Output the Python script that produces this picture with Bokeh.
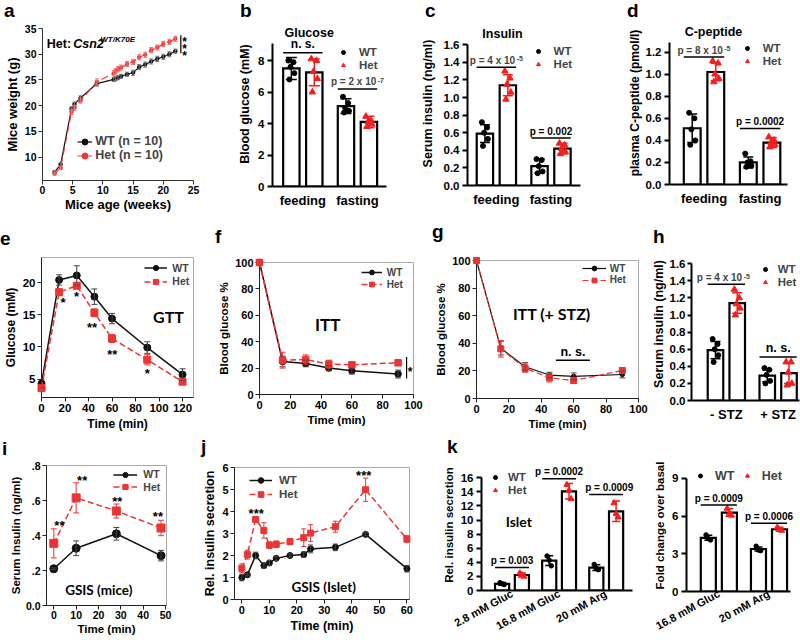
import math
from bokeh.plotting import figure
from bokeh.layouts import row, column
from bokeh.models import (Range1d, FixedTicker, Label, Whisker, TeeHead, ColumnDataSource,
                          Legend, LegendItem, CustomJSTickFormatter, PrintfTickFormatter, Div)
from bokeh.embed import file_html
from bokeh.resources import INLINE

# ===================== DATA =====================
# a: body weight
A_AGE = [2, 3, 4.8, 5.3, 6.3, 9, 11.8, 12.1, 12.5, 13, 14, 15, 16, 17, 18, 19, 20, 21, 22]
A_WT = [7.1, 8.6, 19.4, 20.3, 21.5, 24.3, 25.1, 25.25, 25.45, 25.7, 26.1, 26.4, 27.5, 28.0, 28.6, 29.1, 29.5, 30.0, 30.6]
A_WT_ERR = [0.3, 0.3, 0.4, 0.4, 0.4, 0.5, 0.4, 0.4, 0.4, 0.4, 0.4, 0.5, 0.5, 0.5, 0.5, 0.5, 0.5, 0.5, 0.4]
A_HET = [6.8, 7.9, 18.8, 19.6, 21.0, 24.6, 26.3, 26.7, 27.1, 27.4, 28.1, 28.5, 29.4, 29.9, 30.8, 31.3, 32.0, 32.4, 33.0]
A_HET_ERR = [0.3, 0.3, 0.5, 0.5, 0.5, 0.6, 0.5, 0.5, 0.5, 0.5, 0.5, 0.5, 0.5, 0.5, 0.5, 0.5, 0.5, 0.5, 0.5]
A_XTICKS = [0, 5, 10, 15, 20, 25]
A_YTICKS = [10, 15, 20, 25, 30, 35]

# b: blood glucose
B_CATS = ["feeding", "fasting"]
B_WT = [7.5, 5.1]
B_WT_SD = [0.7, 0.47]
B_HET = [7.25, 4.1]
B_HET_SD = [0.85, 0.36]
B_WT_PTS = [[8.0, 7.9, 7.6, 7.2, 6.8], [5.7, 5.3, 5.0, 4.8, 4.7]]
B_HET_PTS = [[8.1, 8.0, 7.3, 6.85, 6.0], [4.45, 4.2, 4.1, 3.95, 3.8]]
B_YTICKS = [0, 2, 4, 6, 8]

# c: serum insulin
C_CATS = ["feeding", "fasting"]
C_WT = [0.59, 0.22]
C_WT_SD = [0.10, 0.08]
C_HET = [1.14, 0.42]
C_HET_SD = [0.12, 0.06]
C_WT_PTS = [[0.72, 0.66, 0.60, 0.53, 0.45], [0.30, 0.29, 0.22, 0.16, 0.14]]
C_HET_PTS = [[1.30, 1.22, 1.15, 1.06, 0.98], [0.48, 0.46, 0.42, 0.38, 0.36]]
C_YTICKS = [0, 0.2, 0.4, 0.6, 0.8, 1.0, 1.2, 1.4, 1.6]

# d: C-peptide
D_CATS = ["feeding", "fasting"]
D_WT = [0.51, 0.20]
D_WT_SD = [0.13, 0.05]
D_HET = [1.02, 0.38]
D_HET_SD = [0.08, 0.045]
D_WT_PTS = [[0.65, 0.60, 0.50, 0.40, 0.36], [0.28, 0.21, 0.20, 0.17, 0.16]]
D_HET_PTS = [[1.12, 1.10, 1.00, 0.96, 0.93], [0.43, 0.40, 0.38, 0.36, 0.34]]
D_YTICKS = [0, 0.2, 0.4, 0.6, 0.8, 1.0, 1.2]

# e: GTT
E_T = [0, 15, 30, 45, 60, 90, 120]
E_WT = [4.3, 20.4, 21.1, 17.8, 14.4, 9.9, 5.7]
E_WT_ERR = [0.6, 0.8, 1.5, 1.2, 0.8, 0.9, 0.9]
E_HET = [3.6, 18.5, 19.5, 15.3, 11.3, 8.0, 4.6]
E_HET_ERR = [0.3, 0.4, 0.4, 0.6, 0.6, 0.8, 0.3]
E_XTICKS = [0, 20, 40, 60, 80, 100, 120]
E_YTICKS = [5, 10, 15, 20]

# f: ITT
F_T = [0, 15, 30, 45, 60, 90]
F_WT = [100, 25.0, 23.5, 20.0, 18.0, 15.5]
F_WT_ERR = [0, 4, 2.5, 2, 2.5, 3]
F_HET = [100, 26.0, 26.5, 23.0, 22.5, 24.0]
F_HET_ERR = [0, 6, 3.5, 3, 2, 2]
F_XTICKS = [0, 20, 40, 60, 80, 100]
F_YTICKS = [0, 20, 40, 60, 80, 100]

# g: ITT (+STZ)
G_T = [0, 15, 30, 45, 60, 90]
G_WT = [100, 36.5, 23.0, 17.0, 16.0, 17.4]
G_WT_ERR = [0, 5, 3, 2, 2.5, 2.5]
G_HET = [100, 36.0, 22.0, 15.0, 13.0, 20.3]
G_HET_ERR = [0, 6, 3, 3, 2, 2]

# h: serum insulin +/- STZ
H_CATS = ["- STZ", "+ STZ"]
H_WT = [0.59, 0.29]
H_WT_SD = [0.10, 0.07]
H_HET = [1.14, 0.32]
H_HET_SD = [0.12, 0.12]
H_WT_PTS = [[0.72, 0.66, 0.60, 0.53, 0.45], [0.38, 0.36, 0.30, 0.23, 0.20]]
H_HET_PTS = [[1.30, 1.20, 1.13, 1.08, 1.00], [0.45, 0.45, 0.33, 0.20, 0.18]]

# i: GSIS mice
I_T = [0, 10, 28, 48]
I_WT = [0.21, 0.327, 0.41, 0.285]
I_WT_ERR = [0.005, 0.042, 0.036, 0.03]
I_HET = [0.355, 0.615, 0.54, 0.443]
I_HET_ERR = [0.083, 0.086, 0.04, 0.044]
I_XTICKS = [0, 10, 20, 30, 40, 50]
I_YTICKS = [0, 0.2, 0.4, 0.6, 0.8]

# j: GSIS islet
J_T = [0, 2, 5, 8, 10, 12.5, 17.5, 22.5, 25, 34, 45, 60]
J_WT = [1.0, 1.12, 2.0, 1.54, 1.66, 1.87, 2.0, 2.04, 2.3, 2.37, 2.96, 1.4]
J_WT_ERR = [0.15, 0.05, 0.15, 0.12, 0.12, 0.1, 0.07, 0.12, 0.18, 0.15, 0.07, 0.15]
J_HET = [1.42, 2.04, 3.64, 3.14, 2.47, 2.51, 2.63, 2.81, 3.02, 3.31, 4.99, 2.75]
J_HET_ERR = [0.2, 0.2, 0.1, 0.35, 0.15, 0.15, 0.12, 0.4, 0.38, 0.25, 0.53, 0.15]
J_XTICKS = [0, 10, 20, 30, 40, 50, 60]
J_YTICKS = [0, 1, 2, 3, 4, 5, 6]

# k (left): islet insulin secretion
K1_CATS = ["2.8 mM Gluc", "16.8 mM Gluc", "20 mM Arg"]
K1_WT = [0.95, 4.23, 3.25]
K1_WT_SD = [0.2, 0.7, 0.4]
K1_HET = [2.2, 14.07, 11.23]
K1_HET_SD = [0.3, 1.1, 1.45]
K1_WT_PTS = [[1.1, 0.95, 0.85], [4.9, 4.3, 3.5], [3.7, 3.1, 2.95]]
K1_HET_PTS = [[2.45, 2.2, 2.0], [15.0, 14.2, 13.0], [12.4, 10.9, 10.4]]
K1_YTICKS = [0, 2, 4, 6, 8, 10, 12, 14, 16]

# k (right): fold change over basal
K2_CATS = ["16.8 mM Gluc", "20 mM Arg"]
K2_WT = [4.27, 3.38]
K2_WT_SD = [0.2, 0.15]
K2_HET = [6.28, 4.95]
K2_HET_SD = [0.3, 0.15]
K2_WT_PTS = [[4.5, 4.2, 4.1], [3.6, 3.3, 3.25]]
K2_HET_PTS = [[6.6, 6.2, 6.05], [5.1, 4.9, 4.85]]
K2_YTICKS = [0, 3, 6, 9]

# ===================== STYLE / HELPERS =====================
FONT = "Liberation Sans"
CAL = "Lato"
RED = "#f51d1d"
REDL = "#ea3535"
OFF, BW = 0.21, 0.30
JIT = {5: [-0.055, 0.04, -0.015, 0.055, -0.035], 3: [-0.045, 0.0, 0.045]}
CW = {"p": .611, " ": .278, "=": .584, "x": .556, ".": .278, "-": .333, "n": .611, "s": .556}


def tw(t, fs):
    return sum(CW.get(c, .556) for c in t) * fs


def px(v):
    return f"{v:.1f}px"


def lin(p0, v0, p1, v1, e):
    return v0 + (e - p0) * (v1 - v0) / (p1 - p0)


FRAMES = {}


def make_fig(region, frame, xmap, ymap, outline=None):
    """region: canvas box (x0,x1,y0,y1); frame: (left,right,top,bottom) in page px;
    xmap/ymap: two (pixel, value) pairs of each axis scale."""
    x0, x1, y0, y1 = region
    fl, fr, ft, fb = frame
    (a0, va), (a1, vb) = xmap
    (c0, vc), (c1, vd) = ymap
    xr = (lin(a0, va, a1, vb, fl), lin(a0, va, a1, vb, fr))
    yr = (lin(c0, vc, c1, vd, fb), lin(c0, vc, c1, vd, ft))
    p = figure(width=int(x1 - x0), height=int(y1 - y0),
               x_range=Range1d(*xr), y_range=Range1d(*yr),
               output_backend="svg", toolbar_location=None,
               min_border_left=int(round(fl - x0)), min_border_right=int(round(x1 - fr)),
               min_border_top=int(round(ft - y0)), min_border_bottom=int(round(y1 - fb)))
    try:
        p.frame_align = False
    except Exception:
        pass
    p.title.visible = False
    p.xgrid.visible = False
    p.ygrid.visible = False
    p.outline_line_color = outline
    p.background_fill_color = "white"
    p.border_fill_color = "white"
    FRAMES[p.id] = (fl, fr, ft, fb, xmap, ymap)
    return p


def px2x(p, X):
    (a0, va), (a1, vb) = FRAMES[p.id][4]
    return lin(a0, va, a1, vb, X)


def px2y(p, Y):
    (c0, vc), (c1, vd) = FRAMES[p.id][5]
    return lin(c0, vc, c1, vd, Y)


def style(p, tick=11, lab=12, lw=1.0, col="#222222", lab_font=FONT, tick_out=4, ls=2, als=2):
    for ax in list(p.xaxis) + list(p.yaxis):
        ax.major_label_text_font = FONT
        ax.major_label_text_font_style = "bold"
        ax.major_label_text_font_size = px(tick)
        ax.major_label_text_color = "black"
        ax.axis_label_text_font = lab_font
        ax.axis_label_text_font_style = "bold"
        ax.axis_label_text_font_size = px(lab)
        ax.axis_label_text_color = "black"
        ax.axis_line_width = lw
        ax.axis_line_color = col
        ax.major_tick_line_width = lw
        ax.major_tick_line_color = col
        ax.major_tick_in = 0
        ax.major_tick_out = tick_out
        ax.minor_tick_line_color = None
        ax.major_label_standoff = ls
        ax.axis_label_standoff = als


def tl(p, X, Y, text, size, font=FONT, st="bold", align="center", base="middle", color="black"):
    fl, fr, ft, fb = FRAMES[p.id][:4]
    p.add_layout(Label(x=X - fl, y=fb - Y, x_units="screen", y_units="screen",
                       text=text, text_font=font, text_font_style=st, text_font_size=px(size),
                       text_align=align, text_baseline=base, text_color=color))


def dl(p, x, y, text, size, font=FONT, align="center", base="middle", xo=0, yo=0, color="black"):
    p.add_layout(Label(x=x, y=y, x_offset=xo, y_offset=yo, text=text, text_font=font,
                       text_font_style="bold", text_font_size=px(size), text_align=align,
                       text_baseline=base, text_color=color))


def series(p, x, y, err, color, dash, marker, size, ecolor=None, cap=6, lw=1.5, elw=1.0):
    ecolor = ecolor or color
    src = ColumnDataSource(dict(x=x, y=y))
    ex = [a for a, e in zip(x, err) if e > 0]
    eu = [b + e for b, e in zip(y, err) if e > 0]
    el = [b - e for b, e in zip(y, err) if e > 0]
    esrc = ColumnDataSource(dict(x=ex, up=eu, lo=el))
    p.add_layout(Whisker(source=esrc, base="x", upper="up", lower="lo", line_color=ecolor,
                         line_width=elw, level="annotation",
                         upper_head=TeeHead(size=cap, line_color=ecolor, line_width=elw),
                         lower_head=TeeHead(size=cap, line_color=ecolor, line_width=elw)))
    rl = p.line("x", "y", source=src, line_color=color, line_width=lw, line_dash=dash,
                level="annotation")
    rs = p.scatter("x", "y", source=src, marker=marker, size=size, fill_color=color,
                   line_color=color, level="annotation")
    return rl, rs


def legend(p, items, pos, gw, standoff, size, font=FONT):
    """One single-item legend per entry; pos = (glyph left x, row centre y) in page px."""
    fl, fr, ft, fb = FRAMES[p.id][:4]
    H = int(math.ceil(size * 1.2))
    for (label, rends), (gx, gy) in zip(items, pos):
        lg = Legend(items=[LegendItem(label=label, renderers=rends)])
        lg.glyph_width = max(1, int(round(gw)))
        lg.glyph_height = H
        lg.label_height = H
        lg.label_standoff = int(round(standoff))
        lg.padding = 0
        lg.margin = 0
        lg.spacing = 0
        lg.border_line_color = None
        lg.background_fill_alpha = 0
        lg.label_text_font = font
        lg.label_text_font_style = "bold"
        lg.label_text_font_size = px(size)
        lg.location = (gx - fl, fb - gy - H / 2)
        p.add_layout(lg)


def bar_panel(p, cats, wt, wt_sd, het, het_sd, wt_pts, het_pts, cap=10, msize=5):
    n = len(cats)
    xw = [i + 1 - OFF for i in range(n)]
    xh = [i + 1 + OFF for i in range(n)]
    p.vbar(x=xw + xh, top=wt + het, width=BW, fill_color="white", line_color="black",
           line_width=2.2, line_join="miter")

    def pts(xs, groups):
        ox, oy = [], []
        for xc, g in zip(xs, groups):
            for j, v in enumerate(g):
                ox.append(xc + JIT[len(g)][j])
                oy.append(v)
        return ox, oy

    wx, wy = pts(xw, wt_pts)
    hx, hy = pts(xh, het_pts)
    rw = p.scatter(wx, wy, marker="circle", size=msize, color="black", level="annotation")
    rh = p.scatter(hx, hy, marker="triangle", size=msize + 1.5, color=RED, level="annotation")
    for xs, m, s, c in ((xw, wt, wt_sd, "black"), (xh, het, het_sd, RED)):
        src = ColumnDataSource(dict(x=xs, up=[a + b for a, b in zip(m, s)],
                                    lo=[a - b for a, b in zip(m, s)]))
        p.add_layout(Whisker(source=src, base="x", upper="up", lower="lo", line_color=c,
                             line_width=1.5, level="annotation",
                             upper_head=TeeHead(size=cap, line_color=c, line_width=1.5),
                             lower_head=TeeHead(size=cap, line_color=c, line_width=1.5)))
    p.xaxis.ticker = FixedTicker(ticks=list(range(1, n + 1)))
    p.xaxis.major_label_overrides = {i + 1: c for i, c in enumerate(cats)}
    p.xaxis.major_tick_line_color = None
    p.xaxis.major_tick_out = 0
    return rw, rh


def pval(p, xc, y, base, exp=None, size=10, xo=0, yo=1.5):
    if exp is None:
        dl(p, xc, y, base, size, base="bottom", xo=xo, yo=yo)
        return
    fs = size
    fe = 0.7 * fs
    wb = tw(base, fs)
    we = tw(exp, fe)
    left = -(wb + we + 1.5) / 2 + xo
    p.add_layout(Label(x=xc, y=y, x_offset=left + wb, y_offset=yo, text=base, text_font=FONT,
                       text_font_style="bold", text_font_size=f"{fs:.1f}px",
                       text_align="right", text_baseline="bottom"))
    p.add_layout(Label(x=xc, y=y, x_offset=left + wb + 1.5, y_offset=yo + fs * 0.42, text=exp,
                       text_font=FONT, text_font_style="bold", text_font_size=f"{fe:.1f}px",
                       text_align="left", text_baseline="bottom"))


def sig(p, g, level, base, exp=None, size=10, xo=0):
    x0 = g - OFF - BW / 2
    x1 = g + OFF + BW / 2
    p.segment(x0=[x0], y0=[level], x1=[x1], y1=[level], line_color="black",
              line_width=1.5, level="annotation")
    pval(p, g, level, base, exp, size, xo)


def bar_style(p, ybounds_px, xbounds_px=None):
    style(p, tick=11.5, lab=12.5, lw=2.0, col="black", tick_out=5, ls=3, als=3)
    p.xaxis.major_label_text_font_size = px(13)
    p.xaxis.major_label_standoff = 6
    fl, fr, ft, fb = FRAMES[p.id][:4]
    p.yaxis.bounds = (px2y(p, fb), px2y(p, ybounds_px))
    if xbounds_px is not None:
        p.xaxis.bounds = (px2x(p, fl), px2x(p, xbounds_px))


def letter_div(w, h, items):
    spans = "".join(
        '<span style="position:absolute;left:%.1fpx;top:%.1fpx;font-family:\'Liberation Sans\','
        'Arial,sans-serif;font-weight:bold;font-size:19px;line-height:1;white-space:nowrap;'
        'color:#000;">%s</span>' % (x, max(0.5, b - 0.8465 * 19), t)
        for x, b, t in items)
    html = '<div style="position:relative;width:%dpx;height:%dpx;">%s</div>' % (w, h, spans)
    return Div(text=html, width=w, height=h, margin=0)


# ===================== PANEL a =====================
pa = make_fig((0, 200, 20, 215), (41.7, 192.7, 28.3, 180),
              ((41.7, 0), (192.7, 25)), ((28.3, 35), (156.7, 10)))
style(pa, tick=10.5, lab=13, lw=1, col="#333333", ls=1, als=0)
pa.xaxis.ticker = FixedTicker(ticks=A_XTICKS)
pa.yaxis.ticker = FixedTicker(ticks=A_YTICKS)
pa.xaxis.axis_label = "Mice age (weeks)"
pa.yaxis.axis_label = "Mice weight (g)"
pa.yaxis.axis_label_standoff = 2
pa.yaxis.major_label_standoff = 2
awl, aws = series(pa, A_AGE, A_WT, A_WT_ERR, "#111111", "solid", "circle", 3.5,
                  ecolor="#777777", cap=4, lw=1.2)
ahl, ahs = series(pa, A_AGE, A_HET, A_HET_ERR, REDL, "7 4", "circle", 3.5,
                  ecolor="#f07070", cap=4, lw=1.2)
legend(pa, [("WT (n = 10)", [awl, aws]), ("Het (n = 10)", [ahl, ahs])],
       [(77, 141), (77, 155)], gw=15, standoff=3, size=12.5)
tl(pa, 46, 43.3, "Het:", 12.5, align="left")
tl(pa, 72.5, 43.3, "Csn2", 12.5, st="bold italic", align="left")
tl(pa, 99.5, 38.5, "WT/K70E", 8, st="bold italic", align="left")
pa.segment(x0=[A_AGE[-1] + 0.9], y0=[A_WT[-1] - 0.4], x1=[A_AGE[-1] + 0.9], y1=[A_HET[-1] + 0.7],
           line_color="black", line_width=1.2, level="annotation")
for yy in (33.0, 31.6, 30.2):
    dl(pa, A_AGE[-1] + 1.15, yy, "*", 12, align="left", yo=-3)

# ===================== PANEL b =====================
pb = make_fig((200, 400, 20, 215), (272.3, 395, 21, 185.7),
              ((302.55, 1), (357.05, 2)), ((185.7, 0), (60, 8)))
bar_style(pb, 43, 386)
pb.yaxis.ticker = FixedTicker(ticks=B_YTICKS)
pb.yaxis.axis_label = "Blood glucose (mM)"
bw_, bh_ = bar_panel(pb, B_CATS, B_WT, B_WT_SD, B_HET, B_HET_SD, B_WT_PTS, B_HET_PTS, cap=11)
sig(pb, 1, 8.5, "n. s.", size=12)
sig(pb, 2, 6.2, "p = 2 x 10", "-7")
legend(pb, [("WT", [bw_]), ("Het", [bh_])], [(338.3, 51.7), (338.3, 64.3)], gw=10, standoff=11,
       size=11.5)
tl(pb, 309, 32, "Glucose", 12.5)

# ===================== PANEL c =====================
pc = make_fig((400, 600, 20, 215), (466.7, 592, 21, 185),
              ((495.65, 1), (550.4, 2)), ((185, 0), (44.3, 1.6)))
bar_style(pc, 44.3, 580)
pc.yaxis.ticker = FixedTicker(ticks=C_YTICKS)
pc.yaxis.formatter = PrintfTickFormatter(format="%.1f")
pc.yaxis.axis_label = "Serum insulin (ng/ml)"
pc.yaxis.axis_label_standoff = 6
cw_, ch_ = bar_panel(pc, C_CATS, C_WT, C_WT_SD, C_HET, C_HET_SD, C_WT_PTS, C_HET_PTS, cap=10)
sig(pc, 1, 1.346, "p = 4 x 10", "-5")
sig(pc, 2, 0.54, "p = 0.002")
legend(pc, [("WT", [cw_]), ("Het", [ch_])], [(532.3, 51.2), (532.3, 63.8)], gw=10, standoff=11,
       size=11.5)
tl(pc, 501.7, 33, "Insulin", 12.5)

# ===================== PANEL d =====================
pd_ = make_fig((600, 800, 20, 215), (669, 796, 21, 184.3),
               ((703.5, 1), (759.6, 2)), ((184.3, 0), (51.7, 1.2)))
bar_style(pd_, 41.7, 786.7)
pd_.yaxis.ticker = FixedTicker(ticks=D_YTICKS)
pd_.yaxis.formatter = PrintfTickFormatter(format="%.1f")
pd_.yaxis.axis_label = "plasma C-peptide (pmol/l)"
pd_.yaxis.axis_label_standoff = 1
pd_.yaxis.axis_label_text_font_size = px(12)
dw_, dh_ = bar_panel(pd_, D_CATS, D_WT, D_WT_SD, D_HET, D_HET_SD, D_WT_PTS, D_HET_PTS, cap=10)
sig(pd_, 1, 1.155, "p = 8 x 10", "-5")
sig(pd_, 2, 0.507, "p = 0.0002")
legend(pd_, [("WT", [dw_]), ("Het", [dh_])], [(741.7, 48.2), (741.7, 60.8)], gw=10, standoff=10.6,
       size=11.5)
tl(pd_, 713, 32, "C-peptide", 12.5)

# ===================== PANEL e =====================
pe = make_fig((0, 200, 245, 436), (40, 192.7, 256.7, 396.7),
              ((40, 0), (181.7, 120)), ((378.3, 5), (281.7, 20)), outline="#a8a8a8")
style(pe, tick=11.5, lab=12)
pe.xaxis.ticker = FixedTicker(ticks=E_XTICKS)
pe.yaxis.ticker = FixedTicker(ticks=E_YTICKS)
pe.xaxis.axis_label = "Time (min)"
pe.yaxis.axis_label = "Glucose (mM)"
ewl, ews = series(pe, E_T, E_WT, E_WT_ERR, "#111111", "solid", "circle", 7, ecolor="#444444")
ehl, ehs = series(pe, E_T, E_HET, E_HET_ERR, REDL, "6 3", "square", 7)
legend(pe, [("WT", [ewl, ews]), ("Het", [ehl, ehs])], [(143.3, 267.3), (143.3, 280.7)],
       gw=23.4, standoff=5, size=10.5)
tl(pe, 167, 315.5, "GTT", 16, font=CAL)
for (sx, sy, st) in [(18.4, 17.4, "*"), (29.7, 18.3, "*"), (43, 13.5, "**"), (60.2, 9.3, "**"),
                     (90, 6.4, "*")]:
    dl(pe, sx, sy, st, 13, yo=-3)

# ===================== PANEL f =====================
pf = make_fig((200, 425, 245, 436), (259.3, 413.3, 261.7, 394.3),
              ((259.3, 0), (413.3, 100)), ((394.3, 0), (261.7, 100)), outline="#a8a8a8")
style(pf, tick=11, lab=11.5)
pf.xaxis.ticker = FixedTicker(ticks=F_XTICKS)
pf.yaxis.ticker = FixedTicker(ticks=F_YTICKS)
pf.xaxis.axis_label = "Time (min)"
pf.yaxis.axis_label = "Blood glucose %"
fwl, fws = series(pf, F_T, F_WT, F_WT_ERR, "#111111", "solid", "circle", 6.5, ecolor="#444444")
fhl, fhs = series(pf, F_T, F_HET, F_HET_ERR, REDL, "6 3", "square", 6.5)
legend(pf, [("WT", [fwl, fws]), ("Het", [fhl, fhs])], [(361, 272.3), (361, 284.3)], gw=20.7,
       standoff=5, size=10)
tl(pf, 327.5, 324, "ITT", 17, font=CAL)
pf.segment(x0=[F_T[-1] + 5.5], y0=[F_WT[-1] - 3.4], x1=[F_T[-1] + 5.5], y1=[F_HET[-1] + 4.4],
           line_color="black", line_width=1.2, level="annotation")
dl(pf, F_T[-1] + 7.8, 19.5, "*", 12, yo=-3)

# ===================== PANEL g =====================
pg = make_fig((425, 648, 245, 436), (476, 638.3, 260, 398.3),
              ((476, 0), (638.3, 100)), ((398.3, 0), (260, 100)), outline="#a8a8a8")
style(pg, tick=11, lab=11.5)
pg.xaxis.ticker = FixedTicker(ticks=F_XTICKS)
pg.yaxis.ticker = FixedTicker(ticks=F_YTICKS)
pg.xaxis.axis_label = "Time (min)"
pg.yaxis.axis_label = "Blood glucose %"
gwl, gws = series(pg, G_T, G_WT, G_WT_ERR, "#111111", "solid", "circle", 4.5, ecolor="#444444",
                  lw=1.2)
ghl, ghs = series(pg, G_T, G_HET, G_HET_ERR, REDL, "6 3", "square", 6, lw=1.2)
legend(pg, [("WT", [gwl, gws]), ("Het", [ghl, ghs])], [(581.7, 268.3), (581.7, 280)], gw=24,
       standoff=4, size=10)
tl(pg, 551.3, 313.3, "ITT (+ STZ)", 16, font=CAL)
pg.segment(x0=[49], y0=[27.7], x1=[70], y1=[27.7], line_color="black", line_width=1.5,
           level="annotation")
dl(pg, 59.5, 27.7, "n. s.", 12.5, base="bottom", yo=1)

# ===================== PANEL h =====================
ph = make_fig((648, 800, 245, 436), (687.3, 799, 247, 400),
              ((723.35, 1), (776.9, 2)), ((400, 0), (263.3, 1.6)))
bar_style(ph, 263.3)
ph.yaxis.major_label_standoff = 2
ph.yaxis.axis_label_standoff = 1
ph.yaxis.major_tick_out = 4
ph.yaxis.ticker = FixedTicker(ticks=C_YTICKS)
ph.yaxis.formatter = PrintfTickFormatter(format="%.1f")
ph.yaxis.axis_label = "Serum insulin (ng/ml)"
hw_, hh_ = bar_panel(ph, H_CATS, H_WT, H_WT_SD, H_HET, H_HET_SD, H_WT_PTS, H_HET_PTS, cap=10)
sig(ph, 1, 1.36, "p = 4 x 10", "-5", xo=-3)
sig(ph, 2, 0.51, "n. s.", size=12.5)
legend(ph, [("WT", [hw_]), ("Het", [hh_])], [(756, 268.5), (756, 281.5)], gw=10, standoff=8,
       size=11.5)

# ===================== PANEL i =====================
pi_ = make_fig((0, 200, 458, 640), (46, 166, 465, 605),
               ((53.3, 0), (165, 50)), ((605, 0), (465, 0.8)), outline="#a8a8a8")
style(pi_, tick=10.5, lab=11.5, ls=1, als=1)
pi_.yaxis.major_label_standoff = 2
pi_.xaxis.ticker = FixedTicker(ticks=I_XTICKS)
pi_.yaxis.ticker = FixedTicker(ticks=I_YTICKS)
pi_.yaxis.formatter = CustomJSTickFormatter(
    code="return tick == 0 ? '0.0' : tick.toFixed(1).replace(/^0/, '');")
pi_.xaxis.axis_label = "Time (min)"
pi_.yaxis.axis_label = "Serum Insulin (ng/ml)"
iwl, iws = series(pi_, I_T, I_WT, I_WT_ERR, "#111111", "solid", "circle", 8, ecolor="#444444")
ihl, ihs = series(pi_, I_T, I_HET, I_HET_ERR, REDL, "6 3", "square", 8)
legend(pi_, [("WT", [iwl, iws]), ("Het", [ihl, ihs])], [(113.3, 474.3), (113.3, 486.7)], gw=24,
       standoff=6, size=10.5)
tl(pi_, 98.3, 589, "GSIS (mice)", 13.5, font=CAL)
for (sx, sy) in [(2.5, 0.473), (12.7, 0.733), (28.4, 0.613), (46.6, 0.524)]:
    dl(pi_, sx, sy, "**", 13, yo=-3)

# ===================== PANEL j =====================
pj = make_fig((200, 425, 458, 640), (233.3, 409.3, 466.7, 599),
              ((240.7, 0), (379, 50)), ((599, 0), (466.7, 6)), outline="#a8a8a8")
style(pj, tick=11, lab=12.5)
pj.xaxis.ticker = FixedTicker(ticks=J_XTICKS)
pj.yaxis.ticker = FixedTicker(ticks=J_YTICKS)
pj.xaxis.axis_label = "Time (min)"
pj.yaxis.axis_label = "Rel. insulin secretion"
jwl, jws = series(pj, J_T, J_WT, J_WT_ERR, "#111111", "solid", "circle", 6, ecolor="#444444",
                  cap=5)
jhl, jhs = series(pj, J_T, J_HET, J_HET_ERR, REDL, "6 3", "square", 6, cap=5)
legend(pj, [("WT", [jwl, jws]), ("Het", [jhl, jhs])], [(248.3, 480), (248.3, 494.3)], gw=23.4,
       standoff=6.6, size=11.5)
tl(pj, 322.5, 586.7, "GSIS (Islet)", 13.5, font=CAL)
for (sx, sy) in [(5.2, 4.04), (44.3, 5.77)]:
    dl(pj, sx, sy, "***", 13, yo=-3)

# ===================== PANEL k (left) =====================
pk1 = make_fig((425, 640, 458, 640), (481, 639, 459, 590.7),
               ((511.5, 1), (558.6, 2)), ((590.7, 0), (477.3, 16)))
bar_style(pk1, 477.3, 631.7)
pk1.xaxis.major_label_text_font_size = px(11)
pk1.xaxis.major_label_orientation = 0.5
pk1.xaxis.major_label_standoff = 2
pk1.yaxis.ticker = FixedTicker(ticks=K1_YTICKS)
pk1.yaxis.axis_label = "Rel. insulin secretion"
pk1.yaxis.axis_label_text_font_size = px(11.5)
kw_, kh_ = bar_panel(pk1, K1_CATS, K1_WT, K1_WT_SD, K1_HET, K1_HET_SD, K1_WT_PTS, K1_HET_PTS,
                     cap=8, msize=4.5)
sig(pk1, 1, 3.25, "p = 0.003")
sig(pk1, 2, 15.85, "p = 0.0002")
sig(pk1, 3, 13.6, "p = 0.0009", xo=3)
legend(pk1, [("WT", [kw_]), ("Het", [kh_])], [(490, 477.8), (490, 490.4)], gw=10, standoff=8.3,
       size=11.5)
tl(pk1, 518.3, 522, "Islet", 14, font=CAL)

# ===================== PANEL k (right) =====================
pk2 = make_fig((640, 800, 458, 640), (686, 799, 459, 594.3),
               ((718.35, 1), (768.5, 2)), ((594.3, 0), (478.3, 9)))
bar_style(pk2, 478.3, 790)
pk2.xaxis.major_label_text_font_size = px(11)
pk2.xaxis.major_label_orientation = 0.5
pk2.xaxis.major_label_standoff = 1
pk2.yaxis.ticker = FixedTicker(ticks=K2_YTICKS)
pk2.yaxis.axis_label = "Fold change over basal"
pk2.yaxis.axis_label_text_font_size = px(11.5)
k2w_, k2h_ = bar_panel(pk2, K2_CATS, K2_WT, K2_WT_SD, K2_HET, K2_HET_SD, K2_WT_PTS, K2_HET_PTS,
                       cap=8, msize=4.5)
sig(pk2, 1, 6.87, "p = 0.0009")
sig(pk2, 2, 5.43, "p = 0.0006")
legend(pk2, [("WT", [k2w_]), ("Het", [k2h_])], [(695, 479), (741.7, 479)], gw=10, standoff=10,
       size=12.5)

# ===================== LAYOUT =====================
top = row(column(letter_div(200, 20, [(4, 16.5, "a")]), pa),
          column(letter_div(200, 20, [(40, 16.5, "b")]), pb),
          column(letter_div(200, 20, [(25, 16.5, "c")]), pc),
          column(letter_div(200, 20, [(27, 16.5, "d")]), pd_))
mid = row(column(letter_div(200, 30, [(0, 30, "e")]), pe),
          column(letter_div(225, 30, [(15, 28.3, "f")]), pf),
          column(letter_div(223, 30, [(7, 23.5, "g")]), pg),
          column(letter_div(152, 30, [(5, 28.3, "h")]), ph))
bot = row(column(letter_div(200, 22, [(2, 19, "i")]), pi_),
          column(letter_div(225, 22, [(1, 17, "j")]), pj),
          column(letter_div(215, 22, [(22, 17.3, "k")]), pk1),
          column(letter_div(160, 22, []), pk2))
layout = column(top, mid, bot)
open("out.html", "w").write(file_html(layout, INLINE, "Csn2 K70E phenotype"))
